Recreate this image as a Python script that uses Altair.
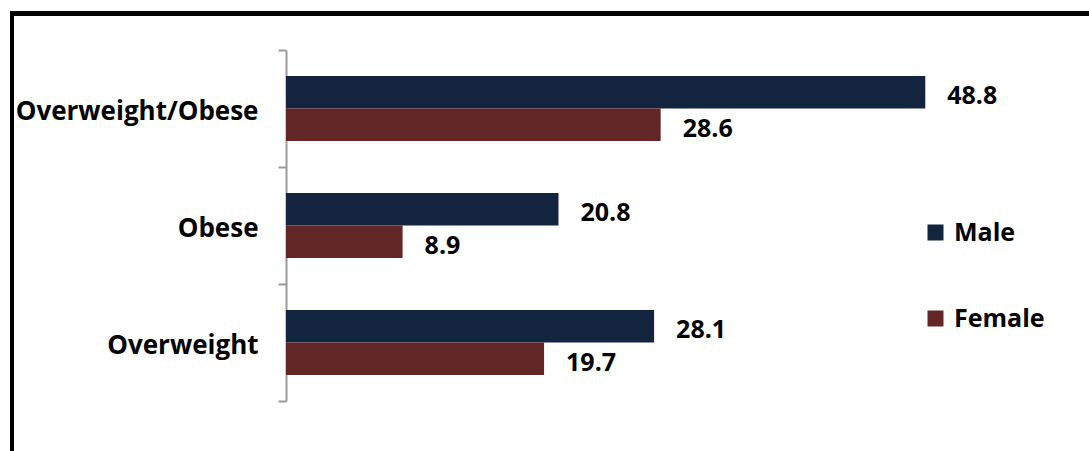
import altair as alt
import pandas as pd

categories = ["Overweight/Obese", "Obese", "Overweight"]
male = [48.8, 20.8, 28.1]
female = [28.6, 8.9, 19.7]
genders = ["Male", "Female"]
colors = ["#13243f", "#632627"]

rows = []
for c, m, f in zip(categories, male, female):
    rows.append({"cat": c, "sex": "Male", "val": m})
    rows.append({"cat": c, "sex": "Female", "val": f})
df = pd.DataFrame(rows)

FONT = "Open Sans"
W, H = 803, 351

y = alt.Y("cat:N", sort=categories, title=None,
          scale=alt.Scale(paddingInner=0, paddingOuter=0),
          axis=alt.Axis(tickBand="extent", tickSize=8, tickColor="#9a9a9a", tickWidth=2,
                        domainColor="#9a9a9a", domainWidth=2, labelPadding=20, labelOffset=3,
                        labelFont=FONT, labelFontSize=26, labelFontWeight="bold",
                        labelColor="#000000", labelLimit=400))
yoff = alt.YOffset("sex:N", sort=genders, scale=alt.Scale(paddingInner=0, paddingOuter=0.8))
x = alt.X("val:Q", title=None, scale=alt.Scale(domain=[0, W / 13.1], nice=False, zero=True),
          axis=None)

bars = alt.Chart(df).mark_bar(size=32.5).encode(
    x=x, y=y, yOffset=yoff,
    color=alt.Color("sex:N", sort=genders,
                    scale=alt.Scale(domain=genders, range=colors),
                    legend=alt.Legend(title=None, orient="none", legendX=637, legendY=170,
                                      symbolType="square", symbolSize=256, symbolStrokeWidth=0,
                                      labelFont=FONT, labelFontSize=25, labelFontWeight="bold",
                                      labelColor="#000000", labelOffset=6, rowPadding=60)),
)

labels = alt.Chart(df).mark_text(align="left", baseline="middle", dx=22, dy=4, font=FONT,
                                 fontSize=25, fontWeight="bold", color="#000000").encode(
    x=x, y=y, yOffset=yoff, text=alt.Text("val:Q", format=".1f"))

frame_top = alt.Chart(df).mark_rule(color="#000000", strokeWidth=4).encode(
    x=alt.value(-276), x2=alt.value(W + 10), y=alt.value(-36.5))
frame_left = alt.Chart(df).mark_rule(color="#000000", strokeWidth=4).encode(
    x=alt.value(-274), y=alt.value(-38.5), y2=alt.value(H + 60))

chart = alt.layer(bars, labels, frame_top, frame_left).properties(
    width=W, height=H,
    autosize=alt.AutoSizeParams(type="none"),
    padding={"left": 286, "top": 50, "right": 0, "bottom": 50},
    background="#ffffff",
).configure_view(stroke=None)

chart.save("out.html", embed_options={"renderer": "svg", "actions": False})
